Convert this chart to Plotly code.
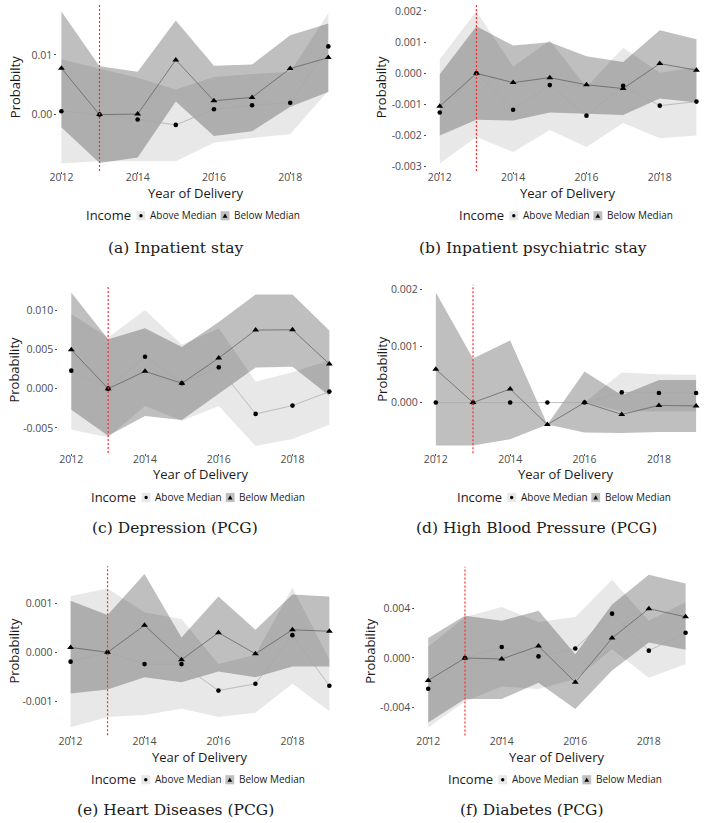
import plotly.graph_objects as go

# ---------------- data ----------------
years = [2012, 2013, 2014, 2015, 2016, 2017, 2018, 2019]
treatment_year = 2013
x_tick_vals = [2012, 2014, 2016, 2018]
x_tick_text = ["2012", "2014", "2016", "2018"]
group_labels = ["Above Median", "Below Median"]
legend_title = "Income"
x_title = "Year of Delivery"

# (a) Inpatient stay
a_above = [0.00056, 0.0, -0.00083, -0.00172, 0.00089, 0.00156, 0.0020, 0.01144]
a_above_lo = [-0.0082, -0.0078, -0.0078, -0.0078, -0.0047, -0.0039, -0.0033, 0.0040]
a_above_hi = [0.0093, 0.0078, 0.0062, 0.0042, 0.0063, 0.0068, 0.0072, 0.0170]
a_below = [0.00778, 0.0, 0.0001, 0.00917, 0.00233, 0.00289, 0.00772, 0.00956]
a_below_lo = [-0.0021, -0.0081, -0.0072, 0.0022, -0.0036, -0.0028, 0.0013, 0.0038]
a_below_hi = [0.0173, 0.0081, 0.0072, 0.0158, 0.0082, 0.0084, 0.0133, 0.0153]
a_yticks = [0.0, 0.01]
a_yticktext = ["0.00", "0.01"]

# (b) Inpatient psychiatric stay
b_above = [-0.00126, 0.0, -0.00117, -0.00038, -0.00136, -0.0004, -0.00104, -0.00091]
b_above_lo = [-0.0029, -0.00205, -0.00253, -0.00182, -0.00237, -0.0016, -0.00209, -0.0020]
b_above_hi = [0.00045, 0.00199, 0.00021, 0.00106, -0.00045, 0.00082, 0.00002, 0.0002]
b_below = [-0.00106, 0.0, -0.0003, -0.00014, -0.00037, -0.00049, 0.00031, 0.0001]
b_below_lo = [-0.0020, -0.00149, -0.00152, -0.00126, -0.00131, -0.00134, -0.00081, -0.00094]
b_below_hi = [-0.00003, 0.00151, 0.00089, 0.0010, 0.00055, 0.00036, 0.00138, 0.00109]
b_yticks = [-0.003, -0.002, -0.001, 0.0, 0.001, 0.002]
b_yticktext = ["-0.003", "-0.002", "-0.001", "0.000", "0.001", "0.002"]

# (c) Depression (PCG)
c_above = [0.00229, 0.0, 0.00407, 0.00068, 0.00271, -0.00322, -0.00216, -0.00038]
c_above_lo = [-0.00525, -0.0062, -0.0022, -0.0041, -0.0022, -0.0073, -0.0064, -0.0046]
c_above_hi = [0.0095, 0.0065, 0.0100, 0.0056, 0.0077, 0.0009, 0.0021, 0.0036]
c_below = [0.00496, 0.0, 0.0022, 0.00068, 0.0039, 0.00746, 0.0075, 0.00314]
c_below_lo = [-0.0027, -0.0060, -0.0035, -0.0040, -0.0006, 0.0027, 0.0028, -0.0009]
c_below_hi = [0.01225, 0.0063, 0.0077, 0.0053, 0.0085, 0.0120, 0.0120, 0.0074]
c_yticks = [-0.005, 0.0, 0.005, 0.010]
c_yticktext = ["-0.005", "0.000", "0.005", "0.010"]

# (d) High Blood Pressure (PCG)
d_above = [0.0, 0.0, 0.0, 0.0, 0.0, 0.00018, 0.00017, 0.00017]
d_above_lo = [0.0, 0.0, 0.0, 0.0, 0.0, -0.00016, -0.00016, -0.00016]
d_above_hi = [0.0, 0.0, 0.0, 0.0, 0.0, 0.00053, 0.0005, 0.00049]
d_below = [0.00059, 0.0, 0.00024, -0.00039, 0.0, -0.00021, -0.00005, -0.00006]
d_below_lo = [-0.00076, -0.00076, -0.00065, -0.00039, -0.00053, -0.00054, -0.00052, -0.00052]
d_below_hi = [0.00195, 0.00078, 0.0011, -0.00039, 0.00055, 0.00013, 0.0004, 0.0004]
d_yticks = [0.0, 0.001, 0.002]
d_yticktext = ["0.000", "0.001", "0.002"]

# (e) Heart Diseases (PCG)
e_above = [-0.00019, 0.0, -0.00024, -0.00024, -0.00078, -0.00064, 0.00035, -0.00068]
e_above_lo = [-0.00153, -0.00132, -0.00128, -0.00115, -0.00132, -0.00123, -0.00064, -0.0012]
e_above_hi = [0.00115, 0.0013, 0.00082, 0.00068, -0.00024, -0.00005, 0.00132, -0.00014]
e_below = [0.0001, 0.0, 0.00055, -0.00015, 0.0004, -0.00003, 0.00046, 0.00043]
e_below_lo = [-0.00084, -0.00076, -0.00051, -0.00061, -0.00039, -0.00051, -0.00029, -0.00029]
e_below_hi = [0.00105, 0.00076, 0.0016, 0.0003, 0.00114, 0.00046, 0.00118, 0.00114]
e_yticks = [-0.001, 0.0, 0.001]
e_yticktext = ["-0.001", "0.000", "0.001"]

# (f) Diabetes (PCG)
f_above = [-0.00248, 0.0, 0.00088, 0.00013, 0.00077, 0.00357, 0.00059, 0.00203]
f_above_lo = [-0.0056, -0.0035, -0.0023, -0.0025, -0.0017, 0.0007, -0.0016, -0.0005]
f_above_hi = [0.0009, 0.0033, 0.0041, 0.0029, 0.0033, 0.0063, 0.0030, 0.0045]
f_below = [-0.00181, 0.0, -0.00008, 0.00096, -0.00195, 0.0016, 0.00397, 0.00331]
f_below_lo = [-0.0052, -0.0033, -0.0033, -0.0020, -0.0041, -0.0010, 0.00125, 0.00067]
f_below_hi = [0.0016, 0.0034, 0.0030, 0.0038, 0.0003, 0.0043, 0.0067, 0.0060]
f_yticks = [-0.004, 0.0, 0.004]
f_yticktext = ["-0.004", "0.000", "0.004"]

panels = [
    dict(cap="(a) Inpatient stay", ytitle="Probabilty",
         above=a_above, above_lo=a_above_lo, above_hi=a_above_hi,
         below=a_below, below_lo=a_below_lo, below_hi=a_below_hi,
         yticks=a_yticks, yticktext=a_yticktext),
    dict(cap="(b) Inpatient psychiatric stay", ytitle="Probabilty",
         above=b_above, above_lo=b_above_lo, above_hi=b_above_hi,
         below=b_below, below_lo=b_below_lo, below_hi=b_below_hi,
         yticks=b_yticks, yticktext=b_yticktext),
    dict(cap="(c) Depression (PCG)", ytitle="Probability",
         above=c_above, above_lo=c_above_lo, above_hi=c_above_hi,
         below=c_below, below_lo=c_below_lo, below_hi=c_below_hi,
         yticks=c_yticks, yticktext=c_yticktext),
    dict(cap="(d) High Blood Pressure (PCG)", ytitle="Probability",
         above=d_above, above_lo=d_above_lo, above_hi=d_above_hi,
         below=d_below, below_lo=d_below_lo, below_hi=d_below_hi,
         yticks=d_yticks, yticktext=d_yticktext),
    dict(cap="(e) Heart Diseases (PCG)", ytitle="Probability",
         above=e_above, above_lo=e_above_lo, above_hi=e_above_hi,
         below=e_below, below_lo=e_below_lo, below_hi=e_below_hi,
         yticks=e_yticks, yticktext=e_yticktext),
    dict(cap="(f) Diabetes (PCG)", ytitle="Probability",
         above=f_above, above_lo=f_above_lo, above_hi=f_above_hi,
         below=f_below, below_lo=f_below_lo, below_hi=f_below_hi,
         yticks=f_yticks, yticktext=f_yticktext),
]

# ---------------- layout geometry (pixels) ----------------
W, H = 709, 823
geom = [
    dict(L=50.0, R=328.6, x0px=54.0, ppy=38.57, top=0.5, bot=169.0, y0px=112.3, k=6000.0, ytx=7.0, capx=169.0, row=0),
    dict(L=423.7, R=709.0, x0px=436.7, ppy=37.09, top=0.5, bot=169.0, y0px=70.7, k=31333.0, ytx=377.3, capx=531.0, row=0),
    dict(L=51.0, R=338.0, x0px=64.0, ppy=37.29, top=284.0, bot=452.7, y0px=388.0, k=7900.0, ytx=6.5, capx=169.0, row=1),
    dict(L=419.5, R=709.0, x0px=432.7, ppy=37.61, top=283.5, bot=452.9, y0px=402.0, k=56850.0, ytx=378.0, capx=535.0, row=1),
    dict(L=50.2, R=338.1, x0px=63.3, ppy=37.39, top=566.6, bot=736.7, y0px=653.3, k=49333.0, ytx=6.0, capx=169.0, row=2),
    dict(L=412.0, R=698.3, x0px=425.0, ppy=37.19, top=567.3, bot=737.0, y0px=659.0, k=12500.0, ytx=366.7, capx=530.0, row=2),
]
rows = [dict(xt=190.7, leg=213.3, cap=246.0),
        dict(xt=474.0, leg=496.7, cap=528.3),
        dict(xt=758.5, leg=780.7, cap=811.7)]

SANS = "Open Sans"
SERIF = "DejaVu Serif"
ABOVE_FILL = "rgba(0,0,0,0.09)"
BELOW_FILL = "rgba(0,0,0,0.25)"
ABOVE_KEY = "#e8e8e8"
BELOW_KEY = "#bfbfbf"


def px(x):
    return x / W


def py(y):
    return 1 - y / H


fig = go.Figure()
annotations = []
shapes = []
layout_axes = {}

for i, (p, g) in enumerate(zip(panels, geom)):
    n = "" if i == 0 else str(i + 1)
    xa, ya = "x" + n, "y" + n
    # ribbons
    fig.add_trace(go.Scatter(x=years + years[::-1], y=p["above_hi"] + p["above_lo"][::-1],
                             fill="toself", fillcolor=ABOVE_FILL, mode="lines",
                             line=dict(width=0), hoverinfo="skip", showlegend=False,
                             xaxis=xa, yaxis=ya))
    fig.add_trace(go.Scatter(x=years + years[::-1], y=p["below_hi"] + p["below_lo"][::-1],
                             fill="toself", fillcolor=BELOW_FILL, mode="lines",
                             line=dict(width=0), hoverinfo="skip", showlegend=False,
                             xaxis=xa, yaxis=ya))
    # lines + points
    fig.add_trace(go.Scatter(x=years, y=p["above"], mode="lines+markers", name=group_labels[0],
                             line=dict(color="#a8a8a8", width=0.7),
                             marker=dict(symbol="circle", size=4.6, color="black"),
                             showlegend=False, xaxis=xa, yaxis=ya))
    fig.add_trace(go.Scatter(x=years, y=p["below"], mode="lines+markers", name=group_labels[1],
                             line=dict(color="#5a5a5a", width=0.7),
                             marker=dict(symbol="triangle-up", size=6, color="black"),
                             showlegend=False, xaxis=xa, yaxis=ya))

    # axes
    xr = [2012 + (g["L"] - g["x0px"]) / g["ppy"], 2012 + (g["R"] - g["x0px"]) / g["ppy"]]
    yr = [(g["y0px"] - g["bot"]) / g["k"], (g["y0px"] - g["top"]) / g["k"]]
    axis_common = dict(showgrid=False, zeroline=False, showline=False, ticks="outside",
                       ticklen=2, tickwidth=0.8, tickcolor="#4d4d4d",
                       tickfont=dict(family=SANS, size=10.5, color="#4d4d4d"), fixedrange=True)
    layout_axes["xaxis" + n] = dict(axis_common, domain=[px(g["L"]), min(1.0, px(g["R"]))], range=xr,
                                    anchor=ya, tickmode="array", tickvals=x_tick_vals,
                                    ticktext=x_tick_text, ticklabelstandoff=-6)
    layout_axes["yaxis" + n] = dict(axis_common, domain=[py(g["bot"]), py(g["top"])], range=yr,
                                    anchor=xa, tickmode="array", tickvals=p["yticks"],
                                    ticktext=p["yticktext"])

    # treatment line
    shapes.append(dict(type="line", xref=xa, yref=ya + " domain", x0=treatment_year, x1=treatment_year,
                       y0=0, y1=1, line=dict(color="#ff2a2a", width=1.2, dash="2px,2px"),
                       layer="above"))

    r = rows[g["row"]]
    cx = (g["L"] + g["R"]) / 2
    # axis titles
    annotations.append(dict(text=x_title, x=px(cx), y=py(r["xt"]), xref="paper", yref="paper",
                            xanchor="center", yanchor="middle", showarrow=False,
                            font=dict(family=SANS, size=13, color="#1a1a1a")))
    annotations.append(dict(text=p["ytitle"], x=px(g["ytx"]), y=py((g["top"] + g["bot"]) / 2),
                            xref="paper", yref="paper", xanchor="center", yanchor="middle",
                            textangle=-90, showarrow=False,
                            font=dict(family=SANS, size=13, color="#1a1a1a")))
    # legend
    ly = r["leg"]
    annotations.append(dict(text=legend_title, x=px(cx - 62.6), y=py(ly), xref="paper", yref="paper",
                            xanchor="right", yanchor="middle", showarrow=False,
                            font=dict(family=SANS, size=13, color="#1a1a1a")))
    annotations.append(dict(text=group_labels[0], x=px(cx - 47.6), y=py(ly), xref="paper", yref="paper",
                            xanchor="left", yanchor="middle", showarrow=False,
                            font=dict(family=SANS, size=10, color="#1a1a1a")))
    annotations.append(dict(text=group_labels[1], x=px(cx + 37.4), y=py(ly), xref="paper", yref="paper",
                            xanchor="left", yanchor="middle", showarrow=False,
                            font=dict(family=SANS, size=10, color="#1a1a1a")))
    kc = ly + 0.8
    for kx, col in ((cx - 54.8, ABOVE_KEY), (cx + 30.2, BELOW_KEY)):
        shapes.append(dict(type="rect", xref="paper", yref="paper", x0=px(kx - 4.5), x1=px(kx + 4.5),
                           y0=py(kc + 4.6), y1=py(kc - 4.6), fillcolor=col, line=dict(width=0),
                           layer="above"))
    dx = cx - 54.8
    shapes.append(dict(type="circle", xref="paper", yref="paper", x0=px(dx - 1.7), x1=px(dx + 1.7),
                       y0=py(kc + 1.7), y1=py(kc - 1.7), fillcolor="black", line=dict(width=0),
                       layer="above"))
    tx = cx + 30.2
    path = "M {:.5f},{:.5f} L {:.5f},{:.5f} L {:.5f},{:.5f} Z".format(
        px(tx - 2.4), py(kc + 2.0), px(tx + 2.4), py(kc + 2.0), px(tx), py(kc - 2.2))
    shapes.append(dict(type="path", xref="paper", yref="paper", path=path, fillcolor="black",
                       line=dict(width=0), layer="above"))
    # caption
    annotations.append(dict(text=p["cap"], x=px(g["capx"]), y=py(r["cap"]), xref="paper", yref="paper",
                            xanchor="center", yanchor="middle", showarrow=False,
                            font=dict(family=SERIF, size=15.5, color="#1a1a1a")))

fig.update_layout(
    width=W, height=H, margin=dict(l=0, r=0, t=0, b=0),
    paper_bgcolor="white", plot_bgcolor="white",
    showlegend=False, annotations=annotations, shapes=shapes,
    **layout_axes,
)

fig.write_html("out.html")
